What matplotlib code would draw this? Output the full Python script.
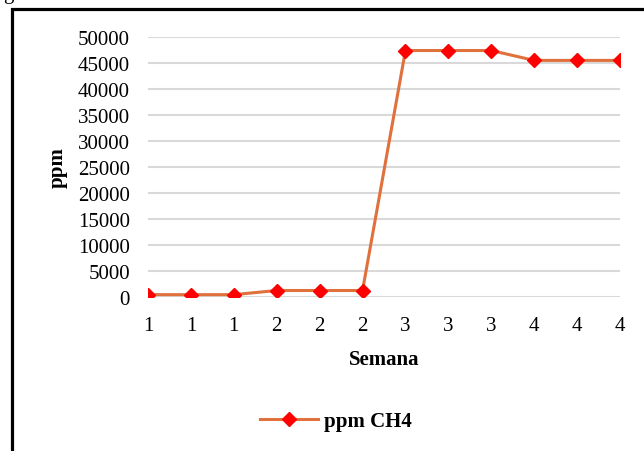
import numpy as np
import matplotlib.pyplot as plt
from matplotlib.patches import Rectangle

# weekly methane readings (ppm), three samples per week
semana = ["1", "1", "1", "2", "2", "2", "3", "3", "3", "4", "4", "4"]
ppm_ch4 = [450, 450, 450, 1250, 1250, 1250, 47400, 47400, 47400, 45500, 45500, 45500]
y_ticks = [0, 5000, 10000, 15000, 20000, 25000, 30000, 35000, 40000, 45000, 50000]

plt.rcParams['font.family'] = ['Liberation Serif', 'DejaVu Serif']

fig = plt.figure(figsize=(6.44, 4.52), dpi=100)
fig.patch.set_facecolor('white')

# outer chart border
fig.add_artist(Rectangle((11.5 / 644, -0.1), 1.2, 0.1 + (1 - 9.5 / 452),
                         transform=fig.transFigure, fill=False,
                         edgecolor='black', linewidth=2.3))
fig.text(3 / 644, 1 + 1 / 452, "g", fontsize=15, va='baseline', ha='left')

ax = fig.add_axes([148 / 644, 1 - 298 / 452, 472 / 644, 260 / 452])
x = np.arange(len(semana))
ax.plot(x, ppm_ch4, color='#E0703C', linewidth=2.2, marker='D',
        markersize=7, markerfacecolor='#FF0000', markeredgecolor='#FF0000',
        label='ppm CH4', zorder=3)

ax.set_xlim(0, len(semana) - 1)
ax.set_ylim(0, 50000)
ax.set_yticks(y_ticks)
ax.set_yticklabels([str(v) for v in y_ticks])
ax.set_xticks(x)
ax.set_xticklabels(semana)
ax.tick_params(axis='both', length=0, labelsize=15)
ax.tick_params(axis='y', pad=13)
ax.tick_params(axis='x', pad=14)
ax.grid(axis='y', color='#D9D9D9', linewidth=1.5)
ax.set_axisbelow(True)
for s in ax.spines.values():
    s.set_visible(False)

ax.set_ylabel("ppm", fontsize=15, fontweight='bold', labelpad=7)
ax.set_xlabel("Semana", fontsize=15, fontweight='bold', labelpad=10)

ax.legend(loc='center', bbox_to_anchor=(336 / 644, 1 - 422 / 452),
          bbox_transform=fig.transFigure, frameon=False,
          prop={'size': 15, 'weight': 'bold'}, handlelength=2.8,
          handletextpad=0.3)

fig.savefig("out.png", dpi=100)
